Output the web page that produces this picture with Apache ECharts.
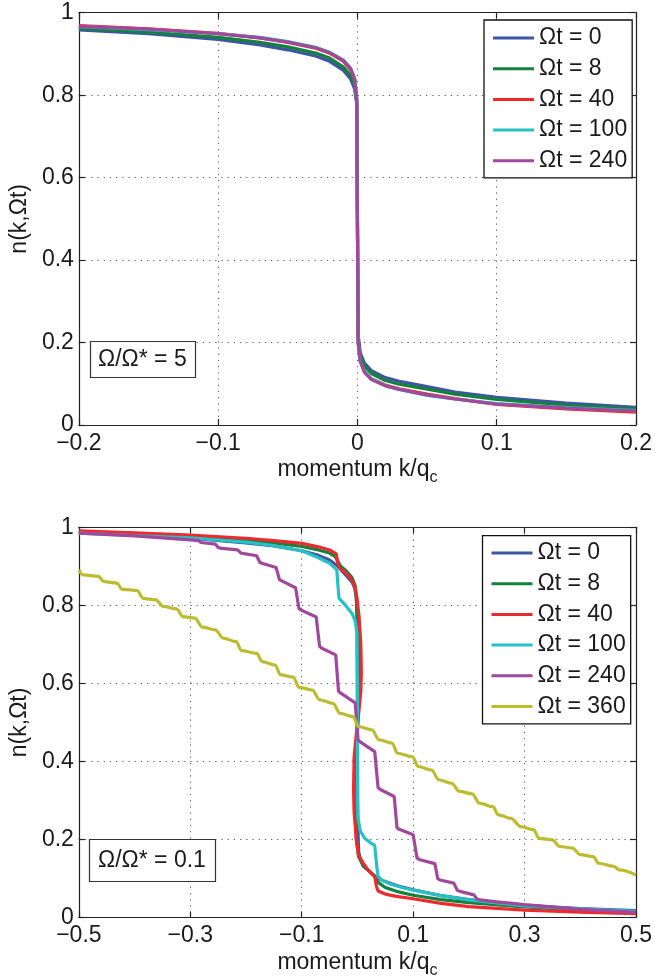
<!DOCTYPE html>
<html>
<head>
<meta charset="utf-8">
<script src="https://cdn.jsdelivr.net/npm/echarts@6/dist/echarts.min.js"></script>
<style>
html,body{margin:0;padding:0;background:#fff;}
#c{width:655px;height:980px;}
</style>
</head>
<body>
<div id="c"></div>
<script>
// ---------- DATA ----------
const SERIES_NAMES = ['\u03A9t = 0', '\u03A9t = 8', '\u03A9t = 40', '\u03A9t = 100', '\u03A9t = 240', '\u03A9t = 360'];
const COLORS = ['#3c55a5', '#16803f', '#ee2a2e', '#27c0c4', '#a0489c', '#bcbc32'];

const TOP_BOX_TEXT = '\u03A9/\u03A9* = 5';
const BOT_BOX_TEXT = '\u03A9/\u03A9* = 0.1';

const TOP_X_TICKS = [-0.2, -0.1, 0, 0.1, 0.2];
const BOT_X_TICKS = [-0.5, -0.3, -0.1, 0.1, 0.3, 0.5];
const Y_TICKS = [0, 0.2, 0.4, 0.6, 0.8, 1];

// Top panel (Omega/Omega* = 5)
const K_TOP = [-0.2, -0.15, -0.1, -0.07, -0.05, -0.03, -0.02, -0.01, -0.005, -0.002, -0.0005, 0.0005, 0.002, 0.005, 0.01, 0.02, 0.03, 0.05, 0.07, 0.1, 0.15, 0.2];
const TOP_OT0   = [0.958, 0.949, 0.935, 0.922, 0.910, 0.895, 0.882, 0.860, 0.840, 0.815, 0.780, 0.220, 0.175, 0.150, 0.132, 0.115, 0.106, 0.093, 0.080, 0.067, 0.053, 0.043];
const TOP_OT8   = [0.962, 0.953, 0.940, 0.928, 0.917, 0.902, 0.890, 0.868, 0.848, 0.825, 0.780, 0.210, 0.168, 0.143, 0.125, 0.108, 0.099, 0.087, 0.075, 0.062, 0.048, 0.039];
const TOP_OT40  = [0.969, 0.961, 0.950, 0.939, 0.928, 0.914, 0.902, 0.882, 0.862, 0.838, 0.790, 0.200, 0.155, 0.130, 0.112, 0.097, 0.088, 0.075, 0.064, 0.050, 0.039, 0.031];
const TOP_OT100 = [0.966, 0.959, 0.949, 0.940, 0.930, 0.916, 0.904, 0.885, 0.865, 0.840, 0.790, 0.200, 0.155, 0.130, 0.112, 0.096, 0.086, 0.072, 0.063, 0.052, 0.042, 0.035];
const TOP_OT240 = [0.967, 0.960, 0.949, 0.939, 0.929, 0.915, 0.903, 0.884, 0.865, 0.840, 0.790, 0.200, 0.155, 0.128, 0.110, 0.095, 0.086, 0.073, 0.063, 0.051, 0.041, 0.034];

// Bottom panel (Omega/Omega* = 0.1)
const BOT_K_OT0 = [-0.5, -0.4, -0.3, -0.2, -0.15, -0.1, -0.07, -0.05, -0.035, -0.02, -0.01, -0.005, -0.002, -0.0005, 0.0005, 0.002, 0.005, 0.01, 0.02, 0.035, 0.05, 0.07, 0.1, 0.15, 0.2, 0.3, 0.4, 0.5];
const BOT_N_OT0 = [0.986, 0.980, 0.972, 0.960, 0.952, 0.940, 0.928, 0.916, 0.900, 0.876, 0.860, 0.845, 0.820, 0.750, 0.250, 0.170, 0.150, 0.132, 0.120, 0.102, 0.092, 0.082, 0.071, 0.056, 0.046, 0.031, 0.023, 0.018];

const BOT_K_OT8 = [-0.5, -0.4, -0.3, -0.2, -0.15, -0.1, -0.07, -0.05, -0.04, -0.035, -0.03, -0.02, -0.01, -0.004, -0.001, 0.002, 0.003, 0.003, 0.001, -0.002, -0.004, -0.004, -0.002, 0.002, 0.01, 0.02, 0.03, 0.037, 0.05, 0.07, 0.1, 0.15, 0.2, 0.3, 0.4, 0.5];
const BOT_N_OT8 = [0.988, 0.983, 0.976, 0.967, 0.960, 0.951, 0.942, 0.934, 0.925, 0.912, 0.900, 0.888, 0.872, 0.850, 0.800, 0.720, 0.650, 0.570, 0.500, 0.430, 0.350, 0.280, 0.200, 0.156, 0.135, 0.120, 0.107, 0.090, 0.077, 0.067, 0.057, 0.046, 0.038, 0.027, 0.019, 0.013];

const BOT_K_OT40 = [-0.5, -0.4, -0.3, -0.2, -0.15, -0.1, -0.07, -0.05, -0.038, -0.035, -0.03, -0.02, -0.01, -0.004, -0.001, 0.003, 0.006, 0.007, 0.006, 0.002, -0.002, -0.006, -0.007, -0.006, -0.002, 0.002, 0.01, 0.02, 0.031, 0.034, 0.037, 0.05, 0.07, 0.1, 0.15, 0.2, 0.3, 0.4, 0.5];
const BOT_N_OT40 = [0.991, 0.986, 0.980, 0.972, 0.966, 0.959, 0.950, 0.942, 0.932, 0.905, 0.893, 0.882, 0.865, 0.845, 0.820, 0.770, 0.700, 0.630, 0.580, 0.520, 0.470, 0.410, 0.330, 0.270, 0.200, 0.160, 0.140, 0.120, 0.105, 0.080, 0.068, 0.060, 0.054, 0.048, 0.036, 0.028, 0.019, 0.014, 0.010];

const BOT_K_OT100 = [-0.5, -0.4, -0.3, -0.2, -0.15, -0.1, -0.07, -0.05, -0.037, -0.035, -0.033, -0.022, -0.01, -0.004, -0.001, 0, 0, 0.001, 0.005, 0.013, 0.025, 0.031, 0.034, 0.037, 0.045, 0.06, 0.08, 0.1, 0.15, 0.2, 0.3, 0.4, 0.5];
const BOT_N_OT100 = [0.985, 0.979, 0.973, 0.962, 0.953, 0.940, 0.922, 0.908, 0.891, 0.850, 0.818, 0.801, 0.780, 0.760, 0.730, 0.600, 0.300, 0.255, 0.222, 0.203, 0.190, 0.185, 0.140, 0.105, 0.095, 0.085, 0.077, 0.070, 0.056, 0.045, 0.030, 0.022, 0.016];

const BOT_K_OT240 = [-0.5, -0.4, -0.3, -0.285, -0.281, -0.255, -0.25, -0.243, -0.215, -0.209, -0.181, -0.175, -0.17, -0.146, -0.14, -0.135, -0.111, -0.105, -0.1, -0.074, -0.068, -0.064, -0.039, -0.034, -0.03, -0.004, 0.001, 0.005, 0.031, 0.037, 0.041, 0.066, 0.071, 0.075, 0.1, 0.107, 0.112, 0.139, 0.144, 0.148, 0.173, 0.179, 0.184, 0.209, 0.215, 0.22, 0.25, 0.3, 0.4, 0.5];
const BOT_N_OT240 = [0.985, 0.978, 0.968, 0.966, 0.961, 0.957, 0.948, 0.946, 0.942, 0.934, 0.927, 0.910, 0.907, 0.897, 0.866, 0.862, 0.845, 0.792, 0.787, 0.770, 0.695, 0.690, 0.673, 0.580, 0.575, 0.550, 0.455, 0.450, 0.425, 0.333, 0.328, 0.310, 0.230, 0.226, 0.212, 0.152, 0.148, 0.138, 0.100, 0.096, 0.088, 0.070, 0.067, 0.058, 0.047, 0.045, 0.040, 0.033, 0.021, 0.013];

const BOT_K_OT360 = [-0.5, -0.492, -0.465, -0.455, -0.432, -0.422, -0.395, -0.385, -0.362, -0.348, -0.325, -0.313, -0.292, -0.278, -0.255, -0.241, -0.218, -0.208, -0.181, -0.171, -0.148, -0.138, -0.115, -0.105, -0.081, -0.068, -0.044, -0.031, -0.008, 0.002, 0.026, 0.039, 0.062, 0.072, 0.099, 0.109, 0.133, 0.146, 0.169, 0.183, 0.206, 0.219, 0.243, 0.253, 0.276, 0.293, 0.316, 0.326, 0.35, 0.363, 0.386, 0.4, 0.423, 0.433, 0.46, 0.47, 0.5];
const BOT_N_OT360 = [0.891, 0.878, 0.874, 0.861, 0.857, 0.841, 0.838, 0.818, 0.814, 0.797, 0.791, 0.771, 0.767, 0.744, 0.737, 0.716, 0.707, 0.684, 0.677, 0.656, 0.647, 0.622, 0.616, 0.590, 0.583, 0.558, 0.549, 0.523, 0.515, 0.489, 0.481, 0.455, 0.447, 0.421, 0.412, 0.387, 0.378, 0.353, 0.344, 0.323, 0.317, 0.293, 0.284, 0.263, 0.254, 0.233, 0.225, 0.203, 0.199, 0.182, 0.178, 0.161, 0.156, 0.139, 0.131, 0.122, 0.109];

// ---------- CHART ----------
const FONT = 'Liberation Sans, Arial, Helvetica, sans-serif';
const FS = 23;
const TXT = '#1a1a1a';
const zip = (a, b) => a.map((v, i) => [v, b[i]]);
const fmtX = v => (Math.abs(v) < 1e-9 ? '0' : (v < 0 ? '\u2212' : '') + Math.abs(v).toFixed(1));
const fmtY = v => (Math.abs(v) < 1e-9 ? '0' : (Math.abs(v - 1) < 1e-9 ? '1' : v.toFixed(1)));

const axisLine = { show: true, onZero: false, lineStyle: { color: '#222', width: 1.2 } };
const axisTick = { show: true, inside: true, length: 6, lineStyle: { color: '#222', width: 1.2 } };
const splitLine = { show: true, lineStyle: { color: '#555', width: 1, type: [1.2, 5] } };
const labelStyle = { fontFamily: FONT, fontSize: FS, color: TXT };
const xName = '{a|momentum k/q}{b|c}';
const xNameStyle = {
  fontFamily: FONT, color: TXT,
  rich: {
    a: { fontFamily: FONT, fontSize: FS, color: TXT },
    b: { fontFamily: FONT, fontSize: 16, color: TXT, padding: [16, 0, 0, 0] }
  }
};
const yNameStyle = { fontFamily: FONT, fontSize: FS, color: TXT };

function mkX(grid, pos, min, max, interval, ticks, main) {
  const ax = {
    type: 'value', gridIndex: grid, position: pos, min, max, interval,
    axisLine, axisTick: Object.assign({}, axisTick, { customValues: ticks }),
    axisLabel: main ? Object.assign({}, labelStyle, { margin: 7, formatter: fmtX, customValues: ticks }) : { show: false },
    splitLine: main ? splitLine : { show: false }
  };
  if (main) {
    ax.name = xName; ax.nameLocation = 'middle'; ax.nameGap = 29; ax.nameTextStyle = xNameStyle;
  }
  return ax;
}
function mkY(grid, pos, main) {
  const ax = {
    type: 'value', gridIndex: grid, position: pos, min: 0, max: 1, interval: 0.2,
    axisLine, axisTick,
    axisLabel: main ? Object.assign({}, labelStyle, { margin: 5, formatter: fmtY }) : { show: false },
    splitLine: main ? splitLine : { show: false }
  };
  if (main) {
    ax.name = 'n(k,\u03A9t)'; ax.nameLocation = 'middle'; ax.nameGap = 41; ax.nameTextStyle = yNameStyle;
  }
  return ax;
}

const topVals = [TOP_OT0, TOP_OT8, TOP_OT40, TOP_OT100, TOP_OT240];
const botK = [BOT_K_OT0, BOT_K_OT8, BOT_K_OT40, BOT_K_OT100, BOT_K_OT240, BOT_K_OT360];
const botN = [BOT_N_OT0, BOT_N_OT8, BOT_N_OT40, BOT_N_OT100, BOT_N_OT240, BOT_N_OT360];

const series = [];
topVals.forEach((vals, i) => {
  series.push({
    name: SERIES_NAMES[i], type: 'line', xAxisIndex: 0, yAxisIndex: 0,
    data: zip(K_TOP, vals), showSymbol: false, symbol: 'none', animation: false,
    lineStyle: { color: COLORS[i], width: 3.2 }, itemStyle: { color: COLORS[i] }, z: 3 + i
  });
});
botK.forEach((ks, i) => {
  const s = {
    name: SERIES_NAMES[i], type: 'line', xAxisIndex: 2, yAxisIndex: 2,
    data: zip(ks, botN[i]), showSymbol: false, symbol: 'none', animation: false,
    lineStyle: { color: COLORS[i], width: 3.2 }, itemStyle: { color: COLORS[i] }, z: 3 + i
  };
  if (i === 5) { s.smooth = 0.35; s.smoothMonotone = 'x'; }
  series.push(s);
});

const legendBase = {
  orient: 'vertical', icon: 'rect', itemWidth: 41, itemHeight: 3, itemGap: 7.7,
  backgroundColor: '#fff', borderColor: '#111', borderWidth: 1.3,
  textStyle: { fontFamily: FONT, fontSize: FS, color: TXT },
  selectedMode: false, z: 10
};

const option = {
  animation: false,
  backgroundColor: '#fff',
  grid: [
    { left: 74.4, right: 16, top: 12.7, bottom: 555 },
    { left: 74.3, right: 17.5, top: 527.3, bottom: 62.5 }
  ],
  xAxis: [
    mkX(0, 'bottom', -0.2, 0.2, 0.1, TOP_X_TICKS, true),
    mkX(0, 'top', -0.2, 0.2, 0.1, TOP_X_TICKS, false),
    mkX(1, 'bottom', -0.5, 0.5, 0.1, BOT_X_TICKS, true),
    mkX(1, 'top', -0.5, 0.5, 0.1, BOT_X_TICKS, false)
  ],
  yAxis: [mkY(0, 'left', true), mkY(0, 'right', false), mkY(1, 'left', true), mkY(1, 'right', false)],
  legend: [
    Object.assign({}, legendBase, { left: 484, top: 20, padding: [6.5, 5, 5.5, 9], data: SERIES_NAMES.slice(0, 5) }),
    Object.assign({}, legendBase, { left: 482.5, top: 535.7, padding: [5.8, 5, 5.8, 9], data: SERIES_NAMES.slice(0, 6) })
  ],
  title: [
    { text: TOP_BOX_TEXT, left: 90, top: 341, padding: [7, 9, 7, 8], borderColor: '#333', borderWidth: 1.2, backgroundColor: '#fff',
      textStyle: { fontFamily: FONT, fontSize: FS, fontWeight: 'normal', color: TXT } },
    { text: BOT_BOX_TEXT, left: 89, top: 839, padding: [10, 10, 10, 9], borderColor: '#333', borderWidth: 1.2, backgroundColor: '#fff',
      textStyle: { fontFamily: FONT, fontSize: FS, fontWeight: 'normal', color: TXT } }
  ],
  series
};

const chart = echarts.init(document.getElementById('c'), null, { renderer: 'canvas' });
chart.setOption(option);
</script>
</body>
</html>
